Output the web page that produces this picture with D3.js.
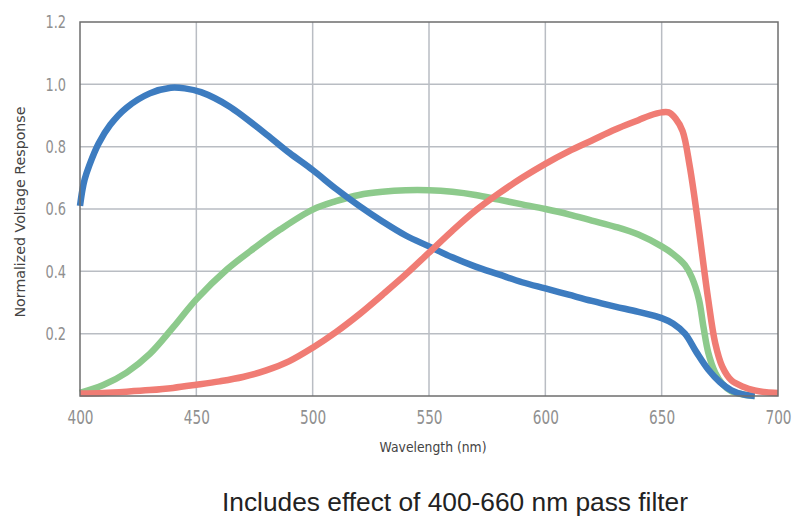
<!DOCTYPE html>
<html><head><meta charset="utf-8">
<script src="https://cdn.jsdelivr.net/npm/d3@7"></script>
<style>
body{margin:0;background:#fff;}
svg{display:block;}
</style></head>
<body>
<svg id="chart" width="794" height="517"></svg>
<script>
const xTicks = [400,450,500,550,600,650,700];
const yTicks = [0.2,0.4,0.6,0.8,1.0,1.2];

const blueWl = [400,401,402,404,408,413,420,430,439,445,452,464,480,490,500,510,520,530,540,550,560,570,580,590,600,610,620,630,640,650,655,660,665,670,675,680,685,690];
const blueVal = [0.61,0.66,0.695,0.74,0.81,0.87,0.925,0.971,0.989,0.987,0.975,0.93,0.84,0.78,0.725,0.665,0.61,0.56,0.515,0.48,0.445,0.415,0.39,0.365,0.345,0.325,0.305,0.287,0.27,0.25,0.232,0.2,0.14,0.085,0.045,0.018,0.005,0.0];

const greenWl = [400,410,420,430,440,450,463,475,486,500,510,520,530,540,550,560,570,580,590,600,610,620,630,640,650,655,660,663,666,668,670,673,676,680,685,690];
const greenVal = [0.01,0.035,0.075,0.135,0.22,0.31,0.405,0.475,0.534,0.598,0.625,0.645,0.655,0.66,0.66,0.655,0.645,0.63,0.615,0.60,0.583,0.563,0.543,0.518,0.48,0.455,0.42,0.38,0.31,0.22,0.14,0.075,0.04,0.015,0.005,0.0];

const redWl = [400,410,420,430,440,450,460,470,480,490,500,510,520,530,540,550,560,570,580,590,600,610,620,630,640,645,650,653,656,659,662,665,668,670,673,676,680,685,690,695,700];
const redVal = [0.008,0.01,0.014,0.019,0.026,0.036,0.047,0.061,0.082,0.112,0.155,0.205,0.262,0.325,0.39,0.46,0.53,0.595,0.65,0.70,0.745,0.785,0.82,0.855,0.885,0.9,0.91,0.91,0.89,0.85,0.74,0.59,0.42,0.31,0.17,0.095,0.05,0.03,0.018,0.012,0.01];

const svg = d3.select("#chart");
const L=80, R=778, T=22, B=396;
const x = d3.scaleLinear().domain([400,700]).range([L,R]);
const y = d3.scaleLinear().domain([0,1.2]).range([B,T]);
const condensed = "'DejaVu Sans',sans-serif";
const sx = 0.72;

// grid
const grid = svg.append("g");
grid.selectAll("line.v").data(xTicks.slice(1,-1)).enter().append("line")
  .attr("x1",d=>x(d)).attr("x2",d=>x(d)).attr("y1",T).attr("y2",B)
  .attr("stroke","#b9bdc3").attr("stroke-width",1.5);
grid.selectAll("line.h").data(yTicks.slice(0,-1)).enter().append("line")
  .attr("x1",L).attr("x2",R).attr("y1",d=>y(d)).attr("y2",d=>y(d))
  .attr("stroke","#b9bdc3").attr("stroke-width",1.5);

// axes
const xAxis = svg.append("g").attr("transform",`translate(0,${B})`)
  .call(d3.axisBottom(x).tickValues(xTicks).tickSize(0).tickPadding(15).tickFormat(d3.format("d")));
xAxis.select(".domain").remove();
xAxis.selectAll("text").attr("fill","#909090").style("font-family",condensed)
  .style("font-size","19px").attr("transform",`scale(${sx},1)`);

const yAxis = svg.append("g").attr("transform",`translate(${L},0)`)
  .call(d3.axisLeft(y).tickValues(yTicks).tickSize(0).tickPadding(14).tickFormat(d3.format(".1f")));
yAxis.select(".domain").remove();
yAxis.selectAll("text").attr("fill","#909090").style("font-family",condensed)
  .style("font-size","18px").attr("x",-14/sx).attr("transform",`scale(${sx},1)`);

// lines
const mk = (wl,vals)=>wl.map((w,i)=>[w,vals[i]]);
const line = d3.line().x(d=>x(d[0])).y(d=>y(d[1])).curve(d3.curveCatmullRom.alpha(0.5));
const series = [
  {data:mk(greenWl,greenVal), color:"#8dca8c"},
  {data:mk(blueWl,blueVal), color:"#3d7cc0"},
  {data:mk(redWl,redVal), color:"#f07c74"}
];
svg.append("g").selectAll("path").data(series).enter().append("path")
  .attr("d",d=>line(d.data)).attr("fill","none")
  .attr("stroke",d=>d.color).attr("stroke-width",6.5)
  .attr("stroke-linejoin","round");

// frame
svg.append("rect").attr("x",L).attr("y",T).attr("width",R-L).attr("height",B-T)
  .attr("fill","none").attr("stroke","#6e6e6e").attr("stroke-width",1.5);

// labels
svg.append("text").attr("transform",`translate(25,212) rotate(-90)`)
  .attr("text-anchor","middle").attr("fill","#444")
  .style("font-family",condensed).style("font-size","14px")
  .attr("textLength",211).attr("lengthAdjust","spacingAndGlyphs")
  .text("Normalized Voltage Response");
svg.append("text").attr("x",433).attr("y",452).attr("text-anchor","middle").attr("fill","#444")
  .style("font-family",condensed).style("font-size","14px")
  .attr("textLength",107).attr("lengthAdjust","spacingAndGlyphs")
  .text("Wavelength (nm)");
svg.append("text").attr("x",455).attr("y",511).attr("text-anchor","middle").attr("fill","#222")
  .style("font-family","'Liberation Sans',Arial,sans-serif").style("font-size","25px")
  .attr("textLength",466).attr("lengthAdjust","spacingAndGlyphs")
  .text("Includes effect of 400-660 nm pass filter");
</script>
</body></html>
